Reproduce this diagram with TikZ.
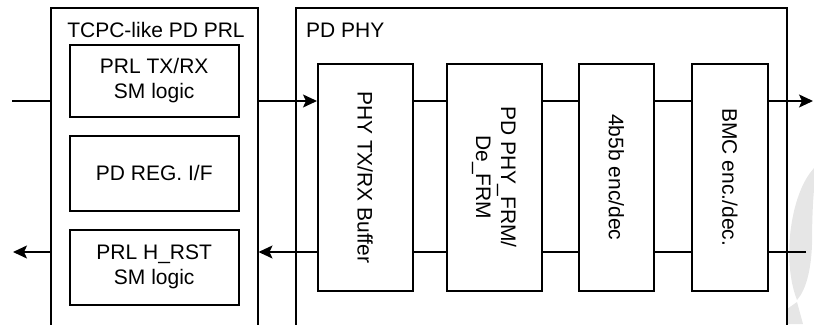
\documentclass[tikz,border=0pt]{standalone}
\usepackage{fontspec}
\setmainfont{Liberation Sans}
\usetikzlibrary{arrows.meta}
\definecolor{wmgray}{HTML}{E6E6E6}
\begin{document}
\begin{tikzpicture}[x=1pt,y=-1pt,
  box/.style={draw, line width=1.5pt, inner sep=0pt, anchor=north west, align=center},
  txt/.style={inner sep=0pt, align=center},
  wire/.style={line width=1.5pt},
  arr/.style={wire, -{Stealth[length=14pt,width=13pt,inset=3pt]}},
  every node/.style={font=\fontsize{21}{25}\selectfont}]
\clip (0,0) rectangle (814,324);
% watermark
\fill[wmgray] (814,168) -- (810,173) .. controls (790,200) and (782,262) .. (797,300)
  .. controls (806,290) and (811,270) .. (812,245) .. controls (812,220) and (813,200) .. (814,190) -- cycle;
\fill[wmgray] (787,309) -- (797,302) -- (803,324) -- (787,324) -- cycle;
% outer blocks
\node[box, minimum width=207pt, minimum height=360pt] (prl) at (50,7) {};
\node[box, minimum width=491pt, minimum height=360pt] (phy) at (295,7) {};
\node[txt] (prlt) at (156,30) {TCPC-like PD PRL};
\node[txt, anchor=west] (phyt) at (306,30) {PD PHY};
% PRL inner blocks
\node[box, minimum width=169pt, minimum height=72pt] (sm1) at (69,44) {PRL TX/RX\\SM logic};
\node[box, minimum width=169pt, minimum height=75pt] (reg) at (69,135) {PD REG. I/F};
\node[box, minimum width=169pt, minimum height=75pt] (sm2) at (69,229) {PRL H\_RST\\SM logic};
% PHY inner blocks
\node[box, minimum width=95pt, minimum height=227pt] (buf) at (317,63) {};
\node[box, minimum width=95pt, minimum height=227pt] (frm) at (446,63) {};
\node[box, minimum width=75pt, minimum height=227pt] (enc) at (578,63) {};
\node[box, minimum width=76pt, minimum height=227pt] (bmc) at (691,63) {};
\node[txt, rotate=-90] (buft) at (buf.center) {PHY TX/RX Buffer};
\node[txt, rotate=-90] (frmt) at (frm.center) {PD PHY\_FRM/\\De\_FRM};
\node[txt, rotate=-90] (enct) at (enc.center) {4b5b enc/dec};
\node[txt, rotate=-90] (bmct) at (bmc.center) {BMC enc./dec.};
% connectors
\coordinate (inL) at (12,101);
\coordinate (outR) at (813,101);
\coordinate (inR) at (806,252);
\coordinate (outL) at (13,252);
\draw[wire] (inL) -- (prl.west |- inL);
\draw[arr] (prl.east |- inL) -- (buf.west |- inL);
\draw[wire] (buf.east |- inL) -- (frm.west |- inL);
\draw[wire] (frm.east |- inL) -- (enc.west |- inL);
\draw[wire] (enc.east |- inL) -- (bmc.west |- inL);
\draw[arr] (bmc.east |- inL) -- (outR);
\draw[wire] (inR) -- (bmc.east |- inR);
\draw[wire] (bmc.west |- inR) -- (enc.east |- inR);
\draw[wire] (enc.west |- inR) -- (frm.east |- inR);
\draw[wire] (frm.west |- inR) -- (buf.east |- inR);
\draw[arr] (buf.west |- inR) -- (prl.east |- inR);
\draw[arr] (prl.west |- inR) -- (outL);
\end{tikzpicture}
\end{document}
